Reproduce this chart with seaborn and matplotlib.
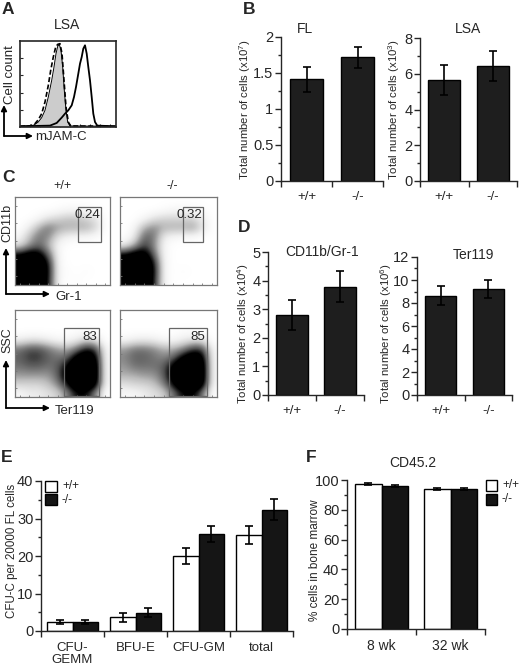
import numpy as np
import matplotlib
matplotlib.use('Agg')
import matplotlib.pyplot as plt
from matplotlib.patches import Rectangle, FancyArrowPatch
from matplotlib.ticker import MultipleLocator, FuncFormatter
import seaborn as sns
import pandas as pd

sns.set_style('ticks')
plt.rcParams['font.family'] = ['Liberation Sans', 'DejaVu Sans']
plt.rcParams['mathtext.fontset'] = 'custom'
plt.rcParams['mathtext.rm'] = 'Liberation Sans'
plt.rcParams['mathtext.it'] = 'Liberation Sans:italic'
plt.rcParams['axes.linewidth'] = 1.0

W, H = 520, 669

# ---- data ----
genotypes = ['+/+', '-/-']
fl_mean = [1.41, 1.72]
fl_err = [0.17, 0.145]
lsa_mean = [5.65, 6.42]
lsa_err = [0.83, 0.84]
cd11b_mean = [2.8, 3.78]
cd11b_err = [0.52, 0.54]
ter119_mean = [8.65, 9.2]
ter119_err = [0.8, 0.8]

cfu_types = ['CFU-\nGEMM', 'BFU-E', 'CFU-GM', 'total']
cfu_wt = [2.4, 3.7, 20.1, 25.6]
cfu_wt_err = [0.45, 1.2, 2.1, 2.5]
cfu_ko = [2.4, 4.9, 25.9, 32.4]
cfu_ko_err = [0.45, 1.2, 2.1, 2.8]

weeks = ['8 wk', '32 wk']
cd45_wt = [97.3, 94.2]
cd45_wt_err = [0.8, 0.6]
cd45_ko = [96.2, 93.8]
cd45_ko_err = [0.6, 0.5]

# histogram (panel A), x in channel units, y in % of max
iso_x = [0, 13.3, 18.3, 21.7, 25, 28.3, 31.7, 34, 36, 37.7, 39.3, 41, 42.7, 44.3, 46, 47.7, 50, 96]
iso_y = [0.8, 1.9, 5.8, 10.9, 19.4, 34.9, 54.3, 69.8, 85.3, 93.8, 96.1, 89.1, 69.8, 42.6, 19.4, 5.8, 1.2, 0.8]
ko_x = [0, 10, 15, 18.3, 21.7, 25, 28.3, 30.7, 33.3, 35.7, 37.7, 40, 42, 44, 46, 48.3, 50.7, 96]
ko_y = [0.8, 1.2, 3.9, 8.5, 15.5, 29.1, 48.4, 65.9, 81.4, 93, 96.1, 96.9, 85.3, 54.3, 23.3, 5.8, 1.2, 0.8]
wt_x = [0, 30, 36.7, 41.7, 45, 48.3, 51.7, 54, 56, 58.3, 60, 61.7, 63.3, 65, 66.7, 68.3, 70, 71.7, 73.3, 75, 77.3, 96]
wt_y = [0.8, 1.6, 4.7, 10.9, 15.5, 19.4, 25.2, 34.9, 46.5, 62, 73.6, 81.4, 91.1, 95, 85.3, 69.8, 54.3, 34.9, 15.5, 5.8, 1.6, 0.8]

# dot-plot densities (panel C), 10x10 cells, top row first
z = [0] * 10
cd11b_wt = [z, [0, 0, 0, 0, 0.02, 0.05, 0.05, 0.05, 0.02, 0],
            [0, 0, 0.05, 0.15, 0.2, 0.25, 0.25, 0.2, 0.15, 0],
            [0, 0.1, 0.3, 0.45, 0.35, 0.3, 0.3, 0.3, 0.2, 0],
            [0.05, 0.25, 0.45, 0.4, 0.15, 0.08, 0.05, 0.05, 0.02, 0],
            [0.15, 0.35, 0.5, 0.3, 0.05, 0, 0, 0, 0, 0],
            [0.7, 0.85, 0.8, 0.5, 0.05, 0, 0, 0, 0, 0],
            [1, 1, 1, 0.7, 0.05, 0, 0, 0, 0, 0],
            [1, 1, 1, 0.75, 0.05, 0.02, 0, 0.02, 0, 0],
            [1, 1, 1, 0.7, 0.05, 0, 0.02, 0, 0, 0]]
cd11b_ko = [z, [0, 0, 0, 0, 0.02, 0.05, 0.05, 0.05, 0.02, 0],
            [0, 0, 0.05, 0.15, 0.2, 0.2, 0.2, 0.2, 0.1, 0],
            [0, 0.05, 0.3, 0.4, 0.3, 0.3, 0.3, 0.35, 0.15, 0],
            [0, 0.1, 0.5, 0.45, 0.1, 0.05, 0.03, 0.03, 0, 0],
            [0.1, 0.3, 0.6, 0.4, 0.05, 0, 0, 0, 0, 0],
            [0.7, 0.85, 0.85, 0.5, 0.05, 0, 0, 0, 0, 0],
            [1, 1, 1, 0.7, 0.05, 0, 0, 0, 0, 0],
            [1, 1, 1, 0.75, 0.05, 0, 0.02, 0, 0, 0],
            [1, 1, 1, 0.7, 0.05, 0, 0, 0, 0, 0]]
ter_wt = [z, z, [0, 0, 0, 0, 0, 0, 0.02, 0.02, 0, 0],
          [0.1, 0.15, 0.15, 0.1, 0.05, 0.05, 0.1, 0.2, 0.15, 0],
          [0.45, 0.55, 0.55, 0.45, 0.35, 0.3, 0.45, 0.7, 0.6, 0.05],
          [0.5, 0.6, 0.6, 0.5, 0.45, 0.5, 0.85, 0.95, 0.8, 0.05],
          [0.45, 0.5, 0.5, 0.45, 0.5, 0.75, 1, 1, 0.9, 0.05],
          [0.35, 0.35, 0.35, 0.35, 0.5, 0.85, 1, 1, 0.9, 0.05],
          [0.2, 0.2, 0.2, 0.25, 0.4, 0.7, 1, 1, 0.85, 0.05],
          [0.05, 0.1, 0.1, 0.15, 0.2, 0.4, 0.7, 0.7, 0.4, 0]]
ter_ko = [z, z, [0, 0, 0, 0, 0, 0, 0.02, 0.02, 0, 0],
          [0.05, 0.1, 0.12, 0.1, 0.05, 0.05, 0.1, 0.15, 0.15, 0],
          [0.35, 0.45, 0.45, 0.4, 0.3, 0.3, 0.4, 0.6, 0.6, 0.05],
          [0.4, 0.5, 0.5, 0.45, 0.4, 0.5, 0.8, 0.95, 0.85, 0.05],
          [0.35, 0.45, 0.45, 0.45, 0.5, 0.8, 1, 1, 0.95, 0.05],
          [0.3, 0.3, 0.35, 0.35, 0.5, 0.85, 1, 1, 0.95, 0.05],
          [0.15, 0.2, 0.2, 0.25, 0.4, 0.75, 1, 1, 0.9, 0.05],
          [0.05, 0.05, 0.1, 0.15, 0.2, 0.45, 0.7, 0.75, 0.45, 0]]

fig = plt.figure(figsize=(W / 100, H / 100), dpi=100)


def add_ax(x0, y0, x1, y1):
    return fig.add_axes([x0 / W, 1 - y1 / H, (x1 - x0) / W, (y1 - y0) / H])


def ftext(x, y, s, **kw):
    fig.text(x / W, 1 - y / H, s, **kw)


def arrow(x0, y0, x1, y1):
    fig.add_artist(FancyArrowPatch((x0 / W, 1 - y0 / H), (x1 / W, 1 - y1 / H),
                                   transform=fig.transFigure, arrowstyle='-|>',
                                   mutation_scale=8, lw=1.3, color='black',
                                   shrinkA=0, shrinkB=0))


def fbox(x0, y0, x1, y1, fc):
    fig.add_artist(Rectangle((x0 / W, 1 - y1 / H), (x1 - x0) / W, (y1 - y0) / H,
                             transform=fig.transFigure, fc=fc, ec='black', lw=1))


fmt = FuncFormatter(lambda v, p: '%g' % v)


def excel_axes(ax, n, ymax, major, minor):
    ax.set_xlim(-0.5, n - 0.5)
    ax.set_ylim(0, ymax)
    ax.set_yticks(np.arange(0, ymax + major / 2, major))
    ax.yaxis.set_major_formatter(fmt)
    ax.yaxis.set_minor_locator(MultipleLocator(minor))
    ax.set_xticks(np.arange(-0.5, n, 1), minor=True)
    ax.tick_params(axis='x', which='major', length=0, pad=7, labelsize=9.5)
    ax.tick_params(axis='x', which='minor', length=4, width=1)
    ax.tick_params(axis='y', which='major', length=4, width=1, labelsize=10.5, pad=1.5)
    ax.tick_params(axis='y', which='minor', length=2.5, width=1)
    sns.despine(ax=ax)
    ax.set_xlabel('')
    ax.set_ylabel('')


def simple_bars(ax, means, errs, ymax, major, minor):
    df = pd.DataFrame({'geno': genotypes, 'val': means})
    sns.barplot(data=df, x='geno', y='val', color='#1e1e1e', saturation=1,
                edgecolor='black', linewidth=1, width=0.66, ax=ax)
    ax.errorbar(range(len(means)), means, yerr=errs, fmt='none', ecolor='black',
                elinewidth=1.2, capsize=3, capthick=1.2)
    excel_axes(ax, 2, ymax, major, minor)


def grouped_bars(ax, cats, wt, wt_err, ko, ko_err, width, ymax, major, minor):
    df = pd.DataFrame({'cat': cats * 2, 'geno': ['+/+'] * len(cats) + ['-/-'] * len(cats),
                       'val': wt + ko})
    sns.barplot(data=df, x='cat', y='val', hue='geno', palette={'+/+': 'white', '-/-': '#151515'},
                saturation=1, edgecolor='black', linewidth=1, width=width, legend=False, ax=ax)
    centers = [p.get_x() + p.get_width() / 2 for p in ax.patches[:2 * len(cats)]]
    ax.errorbar(centers, wt + ko, yerr=wt_err + ko_err, fmt='none', ecolor='black',
                elinewidth=1.2, capsize=3, capthick=1.2)
    excel_axes(ax, len(cats), ymax, major, minor)


# ---------------- panel A ----------------
axA = add_ax(20, 41, 116, 127)
axA.fill_between(iso_x, iso_y, color='#cccccc', lw=0)
sns.lineplot(x=iso_x, y=iso_y, color='black', lw=0.7, sort=False, estimator=None, ax=axA)
sns.lineplot(x=ko_x, y=ko_y, color='black', lw=1.2, sort=False, estimator=None, ax=axA,
             linestyle=(0, (3, 1.5)))
sns.lineplot(x=wt_x, y=wt_y, color='black', lw=1.3, sort=False, estimator=None, ax=axA)
axA.set_xlim(0, 96)
axA.set_ylim(0, 100)
axA.set_xticks(np.arange(10, 96, 10))
axA.set_yticks(np.arange(20, 100, 20))
axA.tick_params(direction='in', length=2, width=0.8, labelbottom=False, labelleft=False)
for s in axA.spines.values():
    s.set_linewidth(1.2)
ftext(67, 25, 'LSA', ha='center', va='center', fontsize=10)
ftext(10, 75, 'Cell count', ha='center', va='center', rotation=90, fontsize=9.5)
arrow(4, 136, 4, 105)
arrow(4, 136, 33, 136)
ftext(35, 137, 'mJAM-C', ha='left', va='center', fontsize=9.5)

# ---------------- panel C ----------------
flow = [((15, 197, 110, 285), cd11b_wt, (0.66, 0.49, 0.91, 0.886), '0.24', (0.90, 0.80)),
        ((120, 197, 217, 285), cd11b_ko, (0.65, 0.49, 0.86, 0.886), '0.32', (0.85, 0.80)),
        ((15, 310, 110, 397), ter_wt, (0.52, 0.01, 0.88, 0.79), '83', (0.86, 0.69)),
        ((120, 310, 217, 397), ter_ko, (0.505, 0.01, 0.90, 0.79), '85', (0.88, 0.69))]
for rect, grid, gate, lab, lpos in flow:
    ax = add_ax(*rect)
    ax.imshow(np.array(grid), extent=(0, 1, 0, 1), origin='upper', cmap='Greys',
              vmin=0, vmax=0.72, interpolation='bicubic', aspect='auto')
    ax.add_patch(Rectangle((gate[0], gate[1]), gate[2] - gate[0], gate[3] - gate[1],
                           fill=False, ec='#666666', lw=0.9))
    ax.text(lpos[0], lpos[1], lab, ha='right', va='center', fontsize=9.5)
    ax.set_xlim(0, 1)
    ax.set_ylim(0, 1)
    ax.set_xticks(np.linspace(0.05, 0.95, 10))
    ax.set_yticks(np.linspace(0.1, 0.9, 5))
    ax.tick_params(direction='in', length=1.5, width=0.6, colors='#777777',
                   labelbottom=False, labelleft=False)
    for s in ax.spines.values():
        s.set_color('#777777')
        s.set_linewidth(0.9)
ftext(62, 186, '+/+', ha='center', va='center', fontsize=9)
ftext(172, 186, '-/-', ha='center', va='center', fontsize=9)
ftext(7, 223, 'CD11b', ha='center', va='center', rotation=90, fontsize=9)
arrow(6, 294, 6, 248)
arrow(6, 294, 50, 294)
ftext(55, 297, 'Gr-1', ha='left', va='center', fontsize=9.5)
ftext(7, 340, 'SSC', ha='center', va='center', rotation=90, fontsize=9)
arrow(6, 408, 6, 360)
arrow(6, 408, 50, 408)
ftext(55, 411, 'Ter119', ha='left', va='center', fontsize=9.5)

# ---------------- panel B ----------------
axB1 = add_ax(281, 37, 383, 181)
simple_bars(axB1, fl_mean, fl_err, 2, 0.5, 0.25)
axB2 = add_ax(420, 38, 517, 181)
simple_bars(axB2, lsa_mean, lsa_err, 8, 2, 1)
ftext(305, 29, 'FL', ha='center', va='center', fontsize=10)
ftext(468, 29, 'LSA', ha='center', va='center', fontsize=10)
ftext(245, 110, 'Total number of cells (x10$^{7}$)', ha='center', va='center', rotation=90, fontsize=8.2)
ftext(394, 110, 'Total number of cells (x10$^{3}$)', ha='center', va='center', rotation=90, fontsize=8.2)

# ---------------- panel D ----------------
axD1 = add_ax(268, 252, 364, 395)
simple_bars(axD1, cd11b_mean, cd11b_err, 5, 1, 0.5)
axD2 = add_ax(417, 257, 512, 395)
simple_bars(axD2, ter119_mean, ter119_err, 12, 2, 1)
ftext(322, 252, 'CD11b/Gr-1', ha='center', va='center', fontsize=10)
ftext(473, 255, 'Ter119', ha='center', va='center', fontsize=10)
ftext(243, 334, 'Total number of cells (x10$^{4}$)', ha='center', va='center', rotation=90, fontsize=8.2)
ftext(386, 334, 'Total number of cells (x10$^{6}$)', ha='center', va='center', rotation=90, fontsize=8.2)

# ---------------- panel E ----------------
axE = add_ax(41, 481, 293, 631)
grouped_bars(axE, cfu_types, cfu_wt, cfu_wt_err, cfu_ko, cfu_ko_err, 0.81, 40, 10, 5)
axE.tick_params(axis='x', which='major', pad=8)
for t in axE.get_xticklabels():
    t.set_linespacing(1.0)
ftext(12, 551, 'CFU-C per 20000 FL cells', ha='center', va='center', rotation=90, fontsize=8.3)
fbox(45, 481, 57, 492, 'white')
fbox(45, 494, 57, 505, '#151515')
ftext(62, 486, '+/+', ha='left', va='center', fontsize=8.5)
ftext(62, 500, '-/-', ha='left', va='center', fontsize=8.5)

# ---------------- panel F ----------------
axF = add_ax(347, 480, 485, 629)
grouped_bars(axF, weeks, cd45_wt, cd45_wt_err, cd45_ko, cd45_ko_err, 0.78, 100, 20, 10)
axF.tick_params(axis='x', which='major', labelsize=10)
ftext(413, 463, 'CD45.2', ha='center', va='center', fontsize=10)
ftext(315, 560, '% cells in bone marrow', ha='center', va='center', rotation=90, fontsize=8.5)
fbox(486, 480, 497, 491, 'white')
fbox(486, 494, 497, 505, '#151515')
ftext(502, 485, '+/+', ha='left', va='center', fontsize=8.5)
ftext(502, 499, '-/-', ha='left', va='center', fontsize=8.5)

# panel letters
for lx, ly, l in [(2, 10, 'A'), (243, 10, 'B'), (2, 177, 'C'), (238, 228, 'D'), (1, 457, 'E'), (306, 457, 'F')]:
    ftext(lx, ly, l, ha='left', va='center', fontsize=12.5, fontweight='bold')

fig.savefig('out.png', dpi=100)
